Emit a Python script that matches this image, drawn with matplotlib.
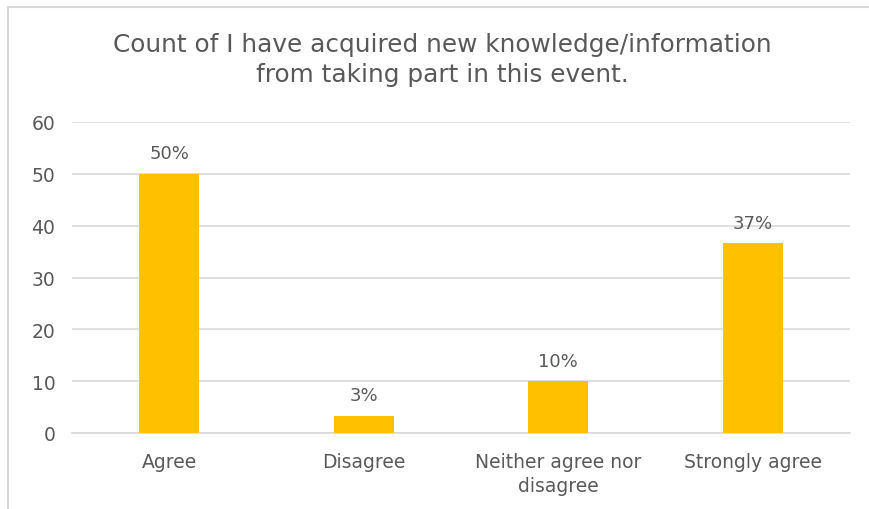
import matplotlib.pyplot as plt
from matplotlib.patches import Rectangle

categories = ["Agree", "Disagree", "Neither agree nor\ndisagree", "Strongly agree"]
values = [50, 3.33, 10, 36.67]
pct_labels = ["50%", "3%", "10%", "37%"]
y_ticks = [0, 10, 20, 30, 40, 50, 60]

plt.rcParams["font.family"] = ["DejaVu Sans"]
grey = "#595959"

fig = plt.figure(figsize=(8.69, 5.1), dpi=100, facecolor="white")
# chart frame
fig.patches.append(Rectangle((8 / 869, -0.05), 1.0, 1 - 8 / 510 + 0.05,
                             transform=fig.transFigure, fill=False,
                             edgecolor="#d9d9d9", lw=1.5))

ax = fig.add_axes([72 / 869, 1 - 434 / 510, 778 / 869, 311 / 510])
x = range(len(categories))
ax.bar(x, values, width=0.31, color="#FFC000", zorder=3)

for xi, v, lab in zip(x, values, pct_labels):
    ax.text(xi, v + 2.2, lab, ha="center", va="bottom", fontsize=13, color=grey)

ax.set_xlim(-0.5, len(categories) - 0.5)
ax.set_ylim(0, 60)
ax.set_yticks(y_ticks)
ax.set_xticks(list(x))
ax.set_xticklabels(categories, fontsize=13.5, color=grey, linespacing=1.3)
ax.tick_params(axis="y", labelsize=13.5, colors=grey, length=0, pad=12)
ax.tick_params(axis="x", length=0, pad=14)
ax.grid(axis="y", color="#d9d9d9", lw=1.2, zorder=0)
for s in ["top", "right", "left"]:
    ax.spines[s].set_visible(False)
ax.spines["bottom"].set_color("#d9d9d9")
ax.spines["bottom"].set_linewidth(1.2)

fig.text(442 / 869, 1 - 60 / 510,
         "Count of I have acquired new knowledge/information\nfrom taking part in this event.",
         ha="center", va="center", fontsize=17.8, color=grey, linespacing=1.35)

fig.savefig("out.png", dpi=100)
